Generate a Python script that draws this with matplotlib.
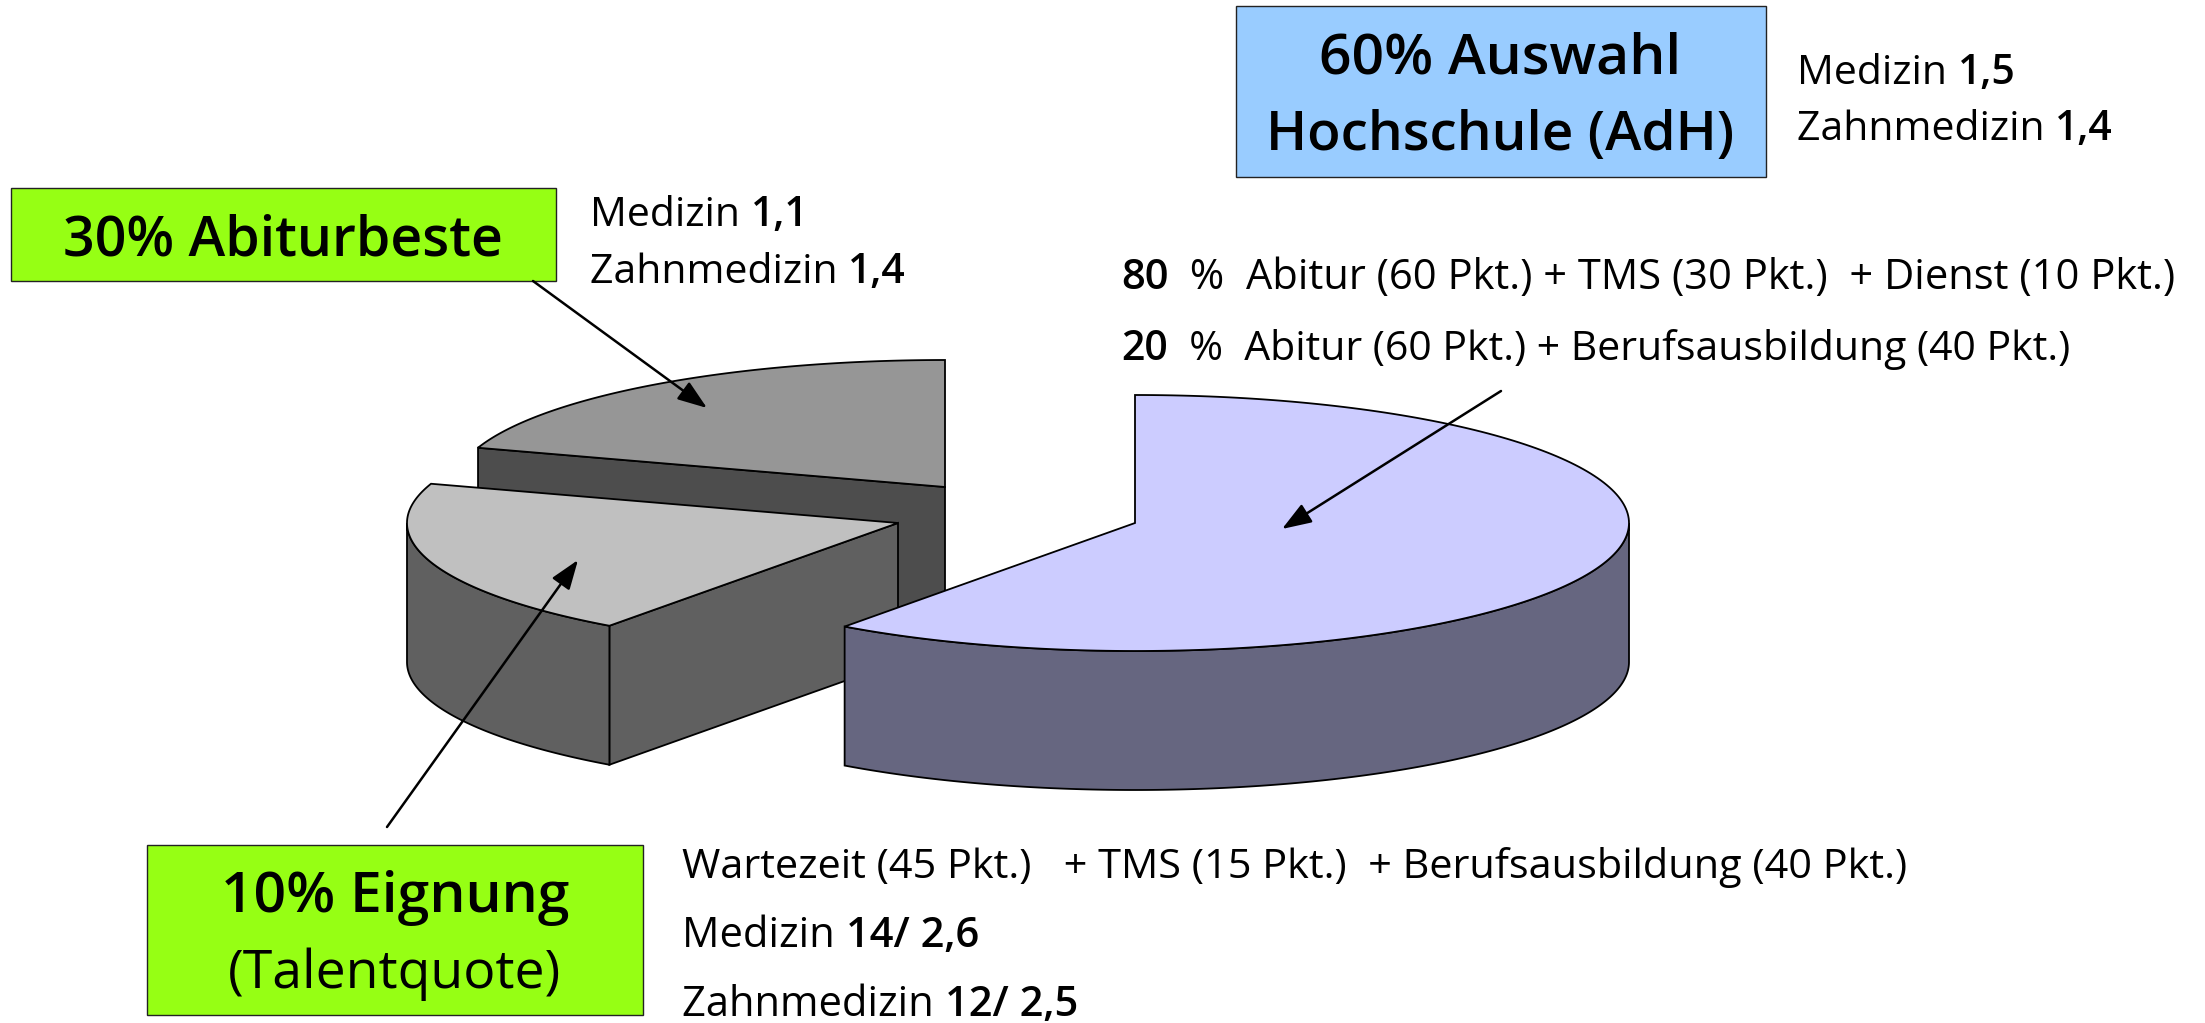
import numpy as np
import matplotlib
matplotlib.use('Agg')
import matplotlib.pyplot as plt
from matplotlib.patches import Polygon, Rectangle

plt.rcParams['font.family'] = ['Open Sans', 'DejaVu Sans']

# --- DATA ---
# slice sizes as drawn in the picture (clockwise from 12 o'clock)
slice_names = ['Auswahl', 'Eignung', 'Abiturbeste']
slice_shares = [60, 20, 20]

box_auswahl = ['60% Auswahl', 'Hochschule (AdH)']
box_abitur = ['30% Abiturbeste']
box_eignung = ['10% Eignung', '(Talentquote)']

notes_auswahl = [[('Medizin ', False), ('1,5', True)],
                 [('Zahnmedizin ', False), ('1,4', True)]]
notes_abitur = [[('Medizin ', False), ('1,1', True)],
                [('Zahnmedizin ', False), ('1,4', True)]]
notes_quota = [[('80', True), ('  %  Abitur (60 Pkt.) + TMS (30 Pkt.)  + Dienst (10 Pkt.)', False)],
               [('20', True), ('  %  Abitur (60 Pkt.) + Berufsausbildung (40 Pkt.)', False)]]
notes_eignung = [[('Wartezeit (45 Pkt.)   + TMS (15 Pkt.)  + Berufsausbildung (40 Pkt.)', False)],
                 [('Medizin ', False), ('14/ 2,6', True)],
                 [('Zahnmedizin ', False), ('12/ 2,5', True)]]

# --- STYLE / LAYOUT (pixels of the 2205x1023 canvas) ---
W, H = 2205, 1023
DEPTH = 139
pie_centres = {'Auswahl': (1135, 523), 'Eignung': (898, 523), 'Abiturbeste': (945, 487)}
pie_radii = {'Auswahl': (494, 128), 'Eignung': (491, 127), 'Abiturbeste': (491, 127)}
top_colors = {'Auswahl': '#CCCCFF', 'Eignung': '#C0C0C0', 'Abiturbeste': '#969696'}
side_colors = {'Auswahl': '#666680', 'Eignung': '#606060', 'Abiturbeste': '#4D4D4D'}
GREEN = '#96FF14'
BLUE = '#99CCFF'

fig = plt.figure(figsize=(W / 100, H / 100), dpi=100)
ax = fig.add_axes([0, 0, 1, 1])
ax.set_xlim(0, W)
ax.set_ylim(H, 0)
ax.axis('off')


def rim(name, a, b):
    """Points on the ellipse edge, angles in degrees clockwise from 12 o'clock."""
    cx, cy = pie_centres[name]
    rx, ry = pie_radii[name]
    t = np.radians(np.linspace(a, b, 200))
    return cx + rx * np.sin(t), cy - ry * np.cos(t)


def draw_slice(name, start, end):
    cx, cy = pie_centres[name]
    # radial face on the start edge, only visible on the left half
    if start > 180:
        x, y = rim(name, start, start)
        ax.add_patch(Polygon([(cx, cy), (x[0], y[0]), (x[0], y[0] + DEPTH), (cx, cy + DEPTH)],
                             fc=side_colors[name], ec='black', lw=1.3))
    # outer wall, only the front half of the ellipse shows
    a, b = max(start, 90), min(end, 270)
    if a < b:
        x, y = rim(name, a, b)
        pts = np.r_[np.c_[x, y], np.c_[x, y + DEPTH][::-1]]
        ax.add_patch(Polygon(pts, fc=side_colors[name], ec='black', lw=1.3))
    x, y = rim(name, start, end)
    pts = np.r_[[(cx, cy)], np.c_[x, y]]
    ax.add_patch(Polygon(pts, fc=top_colors[name], ec='black', lw=1.3))


def draw_box(x0, y0, x1, y1, color, lines, cx, baselines, weights, sizes):
    ax.add_patch(Rectangle((x0, y0), x1 - x0, y1 - y0, fc=color, ec='#222222', lw=1))
    for s, yb, w, fs in zip(lines, baselines, weights, sizes):
        ax.text(cx, yb, s, fontsize=fs, fontweight=w, ha='center', va='baseline')


def draw_runs(x, yb, runs, size):
    r = fig.canvas.get_renderer()
    for s, bold in runs:
        t = ax.text(x, yb, s, fontsize=size, fontweight=600 if bold else 'normal',
                    ha='left', va='baseline')
        x += t.get_window_extent(r).width


def draw_arrow(start, tip):
    ax.annotate('', xy=tip, xytext=start,
                arrowprops=dict(arrowstyle='-|>,head_length=1.0,head_width=0.36', color='black',
                                lw=1.8, mutation_scale=18, shrinkA=0, shrinkB=0))


# --- PIE ---
edges = np.cumsum([0] + slice_shares) * 3.6
order = [2, 1, 0]  # back to front
for i in order:
    draw_slice(slice_names[i], edges[i], edges[i + 1])

# --- BOXES ---
draw_box(1236, 6, 1766, 177, BLUE, box_auswahl, 1500, [73, 150], [600, 600], [41, 39.5])
draw_box(11, 188, 556, 281, GREEN, box_abitur, 283, [256], [600], [40])
draw_box(147, 845, 643, 1015, GREEN, box_eignung, 395, [912, 988], [600, 'normal'], [41, 38.5])

# --- NOTES ---
for runs, yb in zip(notes_auswahl, [84, 140]):
    draw_runs(1797, yb, runs, 29.5)
for runs, yb in zip(notes_abitur, [226, 283]):
    draw_runs(590, yb, runs, 29.5)
for runs, yb, size in zip(notes_quota, [289, 360], [30, 29.5]):
    draw_runs(1121, yb, runs, size)
for runs, yb, size in zip(notes_eignung, [878, 947, 1016], [29.85, 30, 30]):
    draw_runs(682, yb, runs, size)

# --- ARROWS ---
draw_arrow((533, 281), (707, 408))
draw_arrow((387, 827), (578, 560))
draw_arrow((1501, 391), (1282, 529))

fig.savefig('out.png', dpi=100)
